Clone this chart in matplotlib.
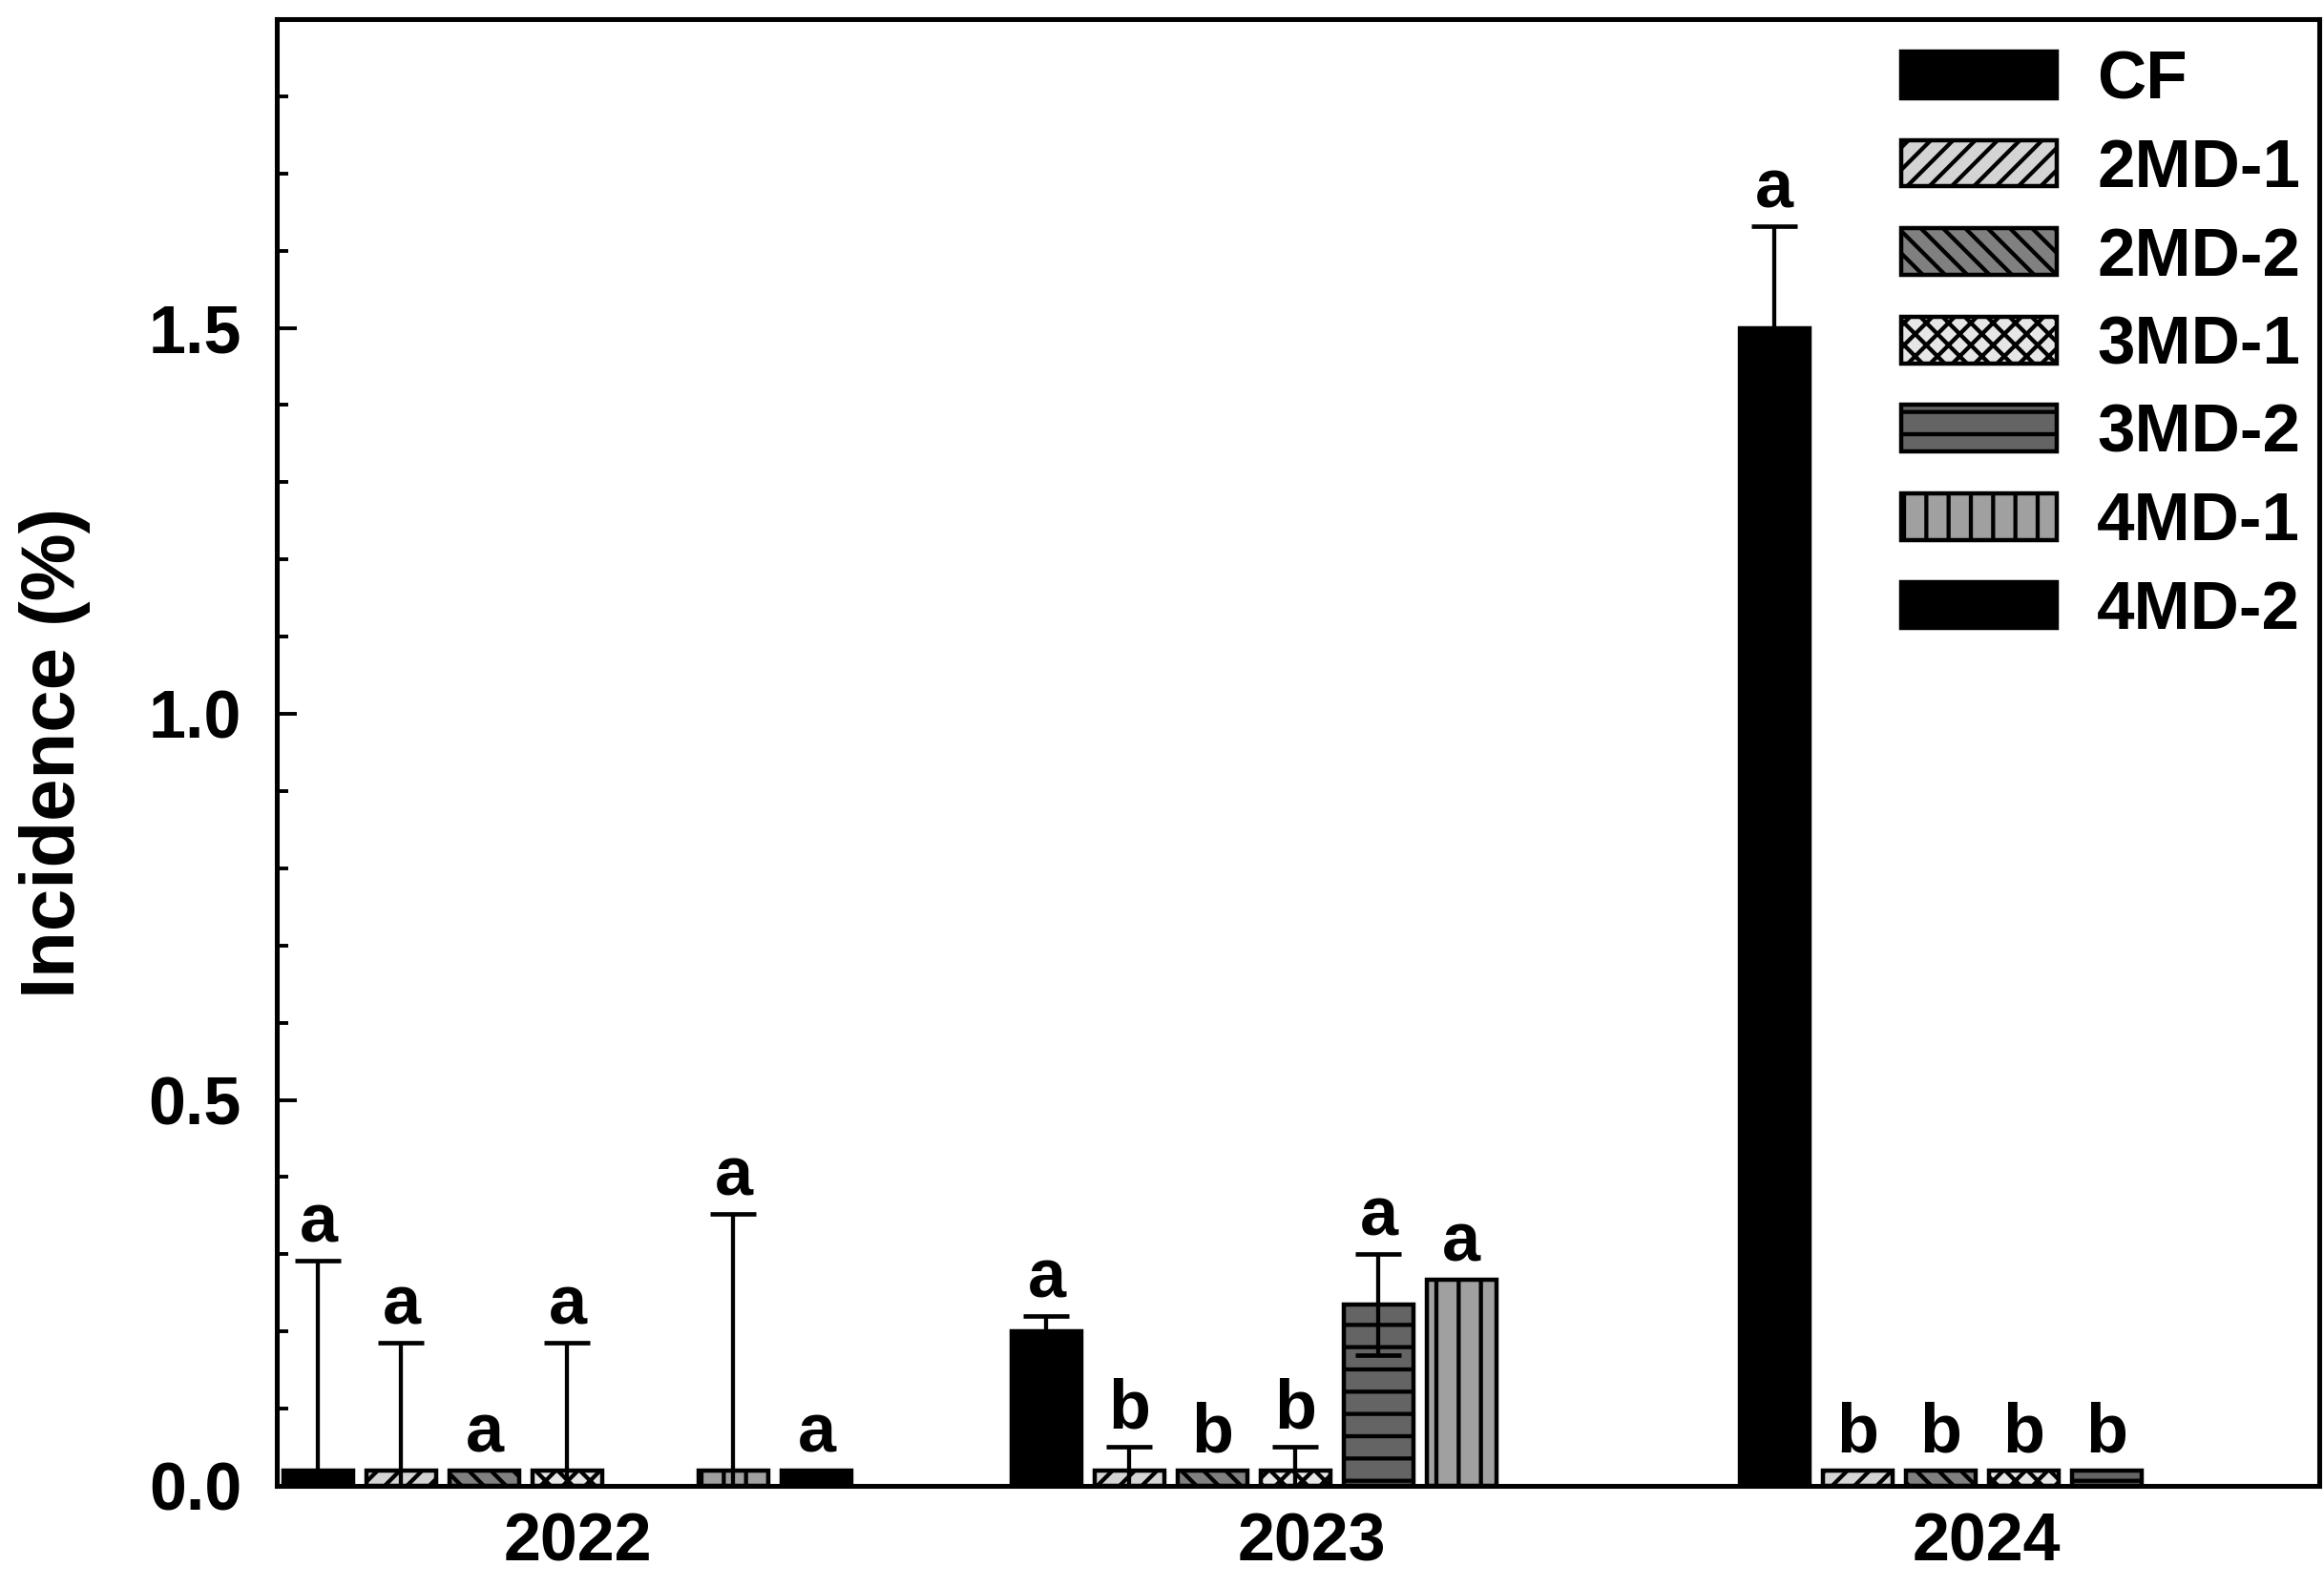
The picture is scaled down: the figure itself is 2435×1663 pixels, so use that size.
import numpy as np
import matplotlib
matplotlib.use('Agg')
import matplotlib.pyplot as plt

# ---- data ----
years = ['2022', '2023', '2024']
treatments = ['CF', '2MD-1', '2MD-2', '3MD-1', '3MD-2', '4MD-1', '4MD-2']

# incidence (%) per treatment, one value per year (nan = no bar)
cf = [0.02, 0.20, 1.50]
md2_1 = [0.02, 0.02, 0.02]
md2_2 = [0.02, 0.02, 0.02]
md3_1 = [0.02, 0.02, 0.02]
md3_2 = [np.nan, 0.235, 0.02]
md4_1 = [0.02, 0.267, np.nan]
md4_2 = [0.02, np.nan, np.nan]

# error bars (nan = none drawn)
cf_err = [0.272, 0.02, 0.132]
md2_1_err = [0.165, 0.031, np.nan]
md2_2_err = [np.nan, np.nan, np.nan]
md3_1_err = [0.165, 0.031, np.nan]
md3_2_err = [np.nan, 0.066, np.nan]
md4_1_err = [0.332, np.nan, np.nan]
md4_2_err = [np.nan, np.nan, np.nan]

# significance letters
cf_sig = ['a', 'a', 'a']
md2_1_sig = ['a', 'b', 'b']
md2_2_sig = ['a', 'b', 'b']
md3_1_sig = ['a', 'b', 'b']
md3_2_sig = ['', 'a', 'b']
md4_1_sig = ['a', 'a', '']
md4_2_sig = ['a', '', '']

values = [cf, md2_1, md2_2, md3_1, md3_2, md4_1, md4_2]
errors = [cf_err, md2_1_err, md2_2_err, md3_1_err, md3_2_err, md4_1_err, md4_2_err]
letters = [cf_sig, md2_1_sig, md2_2_sig, md3_1_sig, md3_2_sig, md4_1_sig, md4_2_sig]

# ---- styles ----
faces = ['black', '#d4d4d4', '#808080', '#e6e6e6', '#646464', '#a0a0a0', 'black']
# diagonal hatches are drawn half as dense as straight ones, hence the doubling
hatches = ['', '//', '\\\\', 'xx', '-', '|', '']

plt.rcParams['font.family'] = ['Liberation Sans', 'DejaVu Sans']
plt.rcParams['font.weight'] = 'bold'
plt.rcParams['hatch.linewidth'] = 2.2
plt.rcParams['hatch.color'] = 'black'

DPI = 140
fig = plt.figure(figsize=(2435 / DPI, 1663 / DPI), dpi=DPI)
ax = fig.add_axes([290 / 2435, 1 - 1557 / 1663, (2430 - 290) / 2435, (1557 - 20) / 1663])

group_step = 8.77
width = 0.84
group_x = np.arange(len(years)) * group_step

for i, name in enumerate(treatments):
    x = group_x + i
    y = np.array(values[i], dtype=float)
    e = np.array(errors[i], dtype=float)
    has = ~np.isnan(y)
    ax.bar(x[has], y[has], width, color=faces[i], edgecolor='black',
           linewidth=2.3, hatch=hatches[i], label=name, zorder=2)
    he = ~np.isnan(e)
    if he.any():
        ax.errorbar(x[he], y[he], yerr=e[he], fmt='none', ecolor='black',
                    elinewidth=2.2, capsize=12.5, capthick=2.4, zorder=3)
    for j in range(len(years)):
        if letters[i][j]:
            top = y[j] + (0 if np.isnan(e[j]) else e[j])
            ax.annotate(letters[i][j], (x[j], top), xytext=(0, 10),
                        textcoords='offset points', ha='center', va='baseline',
                        fontsize=37, fontweight='bold')

ax.set_ylim(0, 1.9)
ax.set_xlim(-0.5, 24.1)
ax.set_yticks([0, 0.5, 1.0, 1.5])
ax.set_yticklabels(['0.0', '0.5', '1.0', '1.5'])
ax.set_yticks(np.arange(0, 1.85, 0.1), minor=True)

label_nudge = [0.12, 0.19, -0.45]
ax.set_xticks(group_x + 3 + np.array(label_nudge))
ax.set_xticklabels(years)

ax.tick_params(axis='y', which='major', direction='in', length=11, width=2,
               labelsize=36, pad=19)
ax.tick_params(axis='y', which='minor', direction='in', length=6, width=2)
ax.tick_params(axis='x', length=0, labelsize=36, pad=14)
for lab in ax.get_xticklabels() + ax.get_yticklabels():
    lab.set_fontweight('bold')

for sp in ax.spines.values():
    sp.set_linewidth(2.6)

ax.set_ylabel('Incidence (%)', fontsize=41, fontweight='bold')
ax.yaxis.set_label_coords(-0.091, 0.5)

ax.legend(loc='upper right', bbox_to_anchor=(0.9907, 0.979), frameon=False,
          fontsize=36.5, handlelength=2.3, handleheight=0.68, handletextpad=0.59,
          labelspacing=0.375, borderpad=0, borderaxespad=0)

fig.savefig('out.png', dpi=DPI)
